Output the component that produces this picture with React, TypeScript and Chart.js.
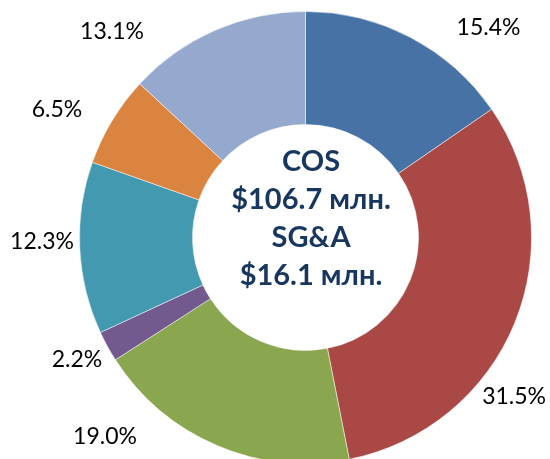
import React, { useEffect, useRef } from "react";
import { Chart, registerables } from "chart.js";

Chart.register(...registerables);

const categories = ["Seg A", "Seg B", "Seg C", "Seg D", "Seg E", "Seg F", "Seg G"];
const values = [15.4, 31.5, 19.0, 2.2, 12.3, 6.5, 13.1];
const colors = ["#4672A6", "#AA4845", "#8AA64E", "#725A8F", "#4399B0", "#DB843F", "#95A9CF"];
const percentLabels = ["15.4%", "31.5%", "19.0%", "2.2%", "12.3%", "6.5%", "13.1%"];
// label placement relative to ring centre, in units of the outer radius
const labelOffsets: [number, number][] = [
  [0.81, -0.927],
  [0.923, 0.706],
  [-0.887, 0.883],
  [-1.011, 0.542],
  [-1.166, 0.02],
  [-1.1, -0.564],
  [-0.856, -0.909],
];
const centerLines = ["COS", "$106.7 млн.", "SG&A", "$16.1 млн."];

const labelPlugin = {
  id: "customLabels",
  afterDatasetsDraw(chart: any) {
    const meta = chart.getDatasetMeta(0);
    const arc0 = meta.data[0];
    if (!arc0) return;
    const { x: cx, y: cy, outerRadius } = arc0.getProps(["x", "y", "outerRadius"], true);
    const ctx = chart.ctx;
    ctx.save();
    ctx.textAlign = "center";
    ctx.textBaseline = "middle";
    ctx.fillStyle = "#000000";
    ctx.font = "23px Lato";
    percentLabels.forEach((t, i) => {
      const [ox, oy] = labelOffsets[i];
      ctx.fillText(t, cx + ox * outerRadius, cy + oy * outerRadius);
    });
    ctx.fillStyle = "#17375E";
    ctx.font = "bold 29px Lato";
    const lh = 38.2;
    const startY = cy - 19 - (lh * (centerLines.length - 1)) / 2;
    centerLines.forEach((t, i) => {
      ctx.fillText(t, cx + 5.5, startY + i * lh);
    });
    ctx.restore();
  },
};

export default function App() {
  const ref = useRef<HTMLCanvasElement | null>(null);
  useEffect(() => {
    if (!ref.current) return;
    const chart = new Chart(ref.current, {
      type: "doughnut",
      data: {
        labels: categories,
        datasets: [
          {
            data: values,
            backgroundColor: colors,
            borderColor: "rgba(255,255,255,0.5)",
            borderWidth: 1,
          },
        ],
      },
      options: {
        responsive: false,
        animation: false,
        cutout: "50%",
        layout: { padding: { left: 79, top: 11, right: 18, bottom: 16 } },
        plugins: {
          legend: { display: false },
          tooltip: { enabled: false },
        },
      },
      plugins: [labelPlugin],
    });
    return () => chart.destroy();
  }, []);
  return (
    <div
      style={{
        position: "fixed",
        left: 0,
        top: 0,
        width: 550,
        height: 459,
        overflow: "hidden",
        background: "#ffffff",
      }}
    >
      <canvas ref={ref} width={550} height={480} style={{ display: "block" }} />
    </div>
  );
}
